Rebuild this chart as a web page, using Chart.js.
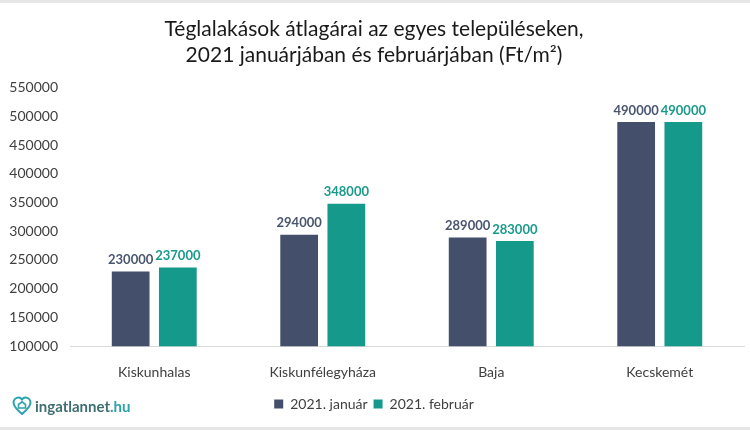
<!DOCTYPE html>
<html>
<head>
<meta charset="utf-8">
<script src="https://cdn.jsdelivr.net/npm/chart.js@4"></script>
<style>
  html, body { margin: 0; padding: 0; background: #fff; }
  #wrap { position: relative; width: 750px; height: 430px; }
  #wrap:before, #wrap:after {
    content: ''; position: absolute; left: 0; width: 750px; height: 3px; background: #e6e6e6;
  }
  #wrap:before { top: 0; }
  #wrap:after { bottom: 0; }
  #logo {
    position: absolute; left: 12px; top: 396px;
    font-family: Lato, sans-serif; font-weight: bold; font-size: 15px;
    color: #3f6e72; display: flex; align-items: center;
  }
  #logo span { color: #2aa3ad; }
  #logo svg { margin-right: 3px; }
</style>
</head>
<body>
<div id="wrap">
  <canvas id="priceChart" width="750" height="430"></canvas>
  <div id="logo">
    <svg width="20" height="20" viewBox="0 0 20 20">
      <path d="M10 18 C4 13 1.5 10 1.5 6.5 C1.5 3.5 4 1.5 6.5 1.5 C8 1.5 9.2 2.3 10 3.5 C10.8 2.3 12 1.5 13.5 1.5 C16 1.5 18.5 3.5 18.5 6.5 C18.5 10 16 13 10 18 Z"
            fill="none" stroke="#2aa3ad" stroke-width="2"/>
      <path d="M6.5 12 V8.5 L10 5.8 L13.5 8.5 V12 Z" fill="none" stroke="#2aa3ad" stroke-width="1.6"/>
    </svg>
    ingatlannet<span>.hu</span>
  </div>
</div>
<script>
// Chart data
const cities = ['Kiskunhalas', 'Kiskunfélegyháza', 'Baja', 'Kecskemét'];
const januaryPrices = [230000, 294000, 289000, 490000];
const februaryPrices = [237000, 348000, 283000, 490000];
const seriesNames = ['2021. január', '2021. február'];

const darkColor = '#44506b';
const tealColor = '#14998a';

// Draw the value labels above each bar
const barLabels = {
    id: 'barLabels',
    afterDatasetsDraw(chart) {
        const ctx = chart.ctx;
        ctx.save();
        ctx.font = 'bold 13px Lato, sans-serif';
        ctx.textAlign = 'center';
        ctx.textBaseline = 'bottom';
        chart.data.datasets.forEach((ds, i) => {
            const meta = chart.getDatasetMeta(i);
            ctx.fillStyle = i === 0 ? '#4a5670' : '#1a9a8b';
            meta.data.forEach((bar, j) => {
                ctx.fillText(ds.data[j], bar.x, bar.y - 5);
            });
        });
        ctx.restore();
    }
};

const ctx = document.getElementById('priceChart').getContext('2d');
new Chart(ctx, {
    type: 'bar',
    data: {
        labels: cities,
        datasets: [{
            label: seriesNames[0],
            data: januaryPrices,
            backgroundColor: darkColor,
            categoryPercentage: 0.56,
            barPercentage: 0.8
        }, {
            label: seriesNames[1],
            data: februaryPrices,
            backgroundColor: tealColor,
            categoryPercentage: 0.56,
            barPercentage: 0.8
        }]
    },
    options: {
        responsive: false,
        animation: false,
        layout: {
            padding: { left: 4, right: 6, top: 10, bottom: 9 }
        },
        plugins: {
            title: {
                display: true,
                text: ['Téglalakások átlagárai az egyes településeken,',
                       '2021 januárjában és februárjában (Ft/m²)'],
                color: '#1a1a1a',
                font: { family: 'Lato, sans-serif', size: 21, weight: 'normal', lineHeight: 1.25 },
                padding: { top: 6, bottom: 19 }
            },
            legend: {
                position: 'bottom',
                labels: {
                    boxWidth: 9,
                    boxHeight: 9,
                    padding: 6,
                    color: '#404040',
                    font: { family: 'Lato, sans-serif', size: 14 }
                }
            },
            tooltip: { enabled: false }
        },
        scales: {
            x: {
                grid: { display: false },
                border: { color: '#d9d9d9' },
                ticks: {
                    color: '#404040',
                    padding: 10,
                    font: { family: 'Lato, sans-serif', size: 14 }
                }
            },
            y: {
                min: 100000,
                max: 550000,
                ticks: {
                    stepSize: 50000,
                    color: '#404040',
                    padding: 4,
                    font: { family: 'Lato, sans-serif', size: 14 },
                    callback: (value) => String(value)
                },
                grid: { display: false },
                border: { display: false },
                afterFit(scale) { scale.width = 66; }
            }
        }
    },
    plugins: [barLabels]
});
</script>
</body>
</html>
